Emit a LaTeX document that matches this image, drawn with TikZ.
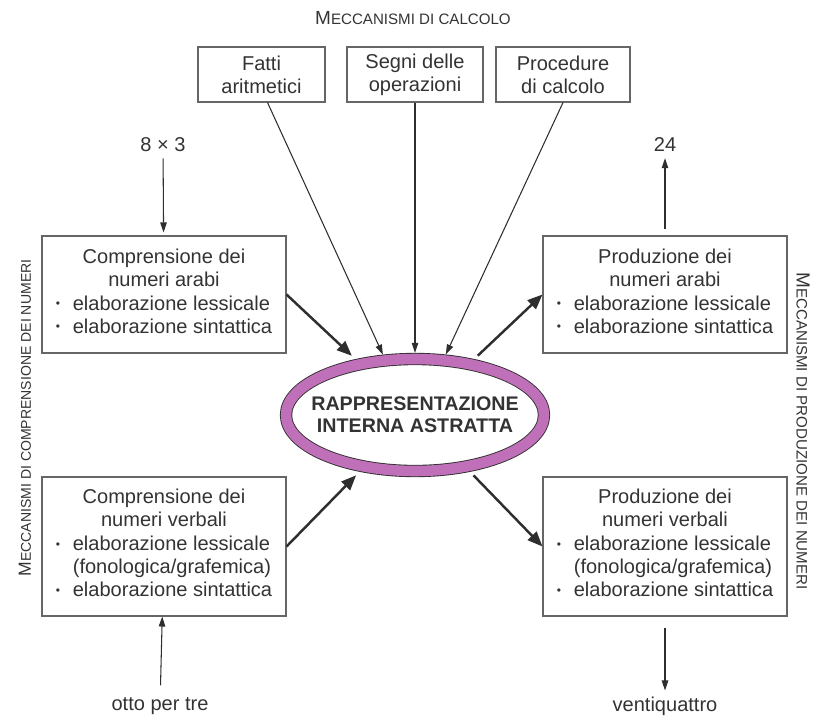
\documentclass[tikz,border=0pt]{standalone}
\usepackage{fontspec}
\setmainfont{Liberation Sans}
\usepackage{tikz}
\usetikzlibrary{arrows.meta,shapes.geometric}
\definecolor{viola}{HTML}{C070B8}
\definecolor{bordo}{HTML}{2E2E2E}
\definecolor{testo}{HTML}{333333}
\definecolor{grigio}{HTML}{666666}
\newcommand{\corpo}{\fontsize{11.4}{13.2}\selectfont}
\newcommand{\voce}{\makebox[0.85em][l]{\raisebox{0.12em}{\scalebox{0.6}{\textbullet}}}}
\newcommand{\rientro}{\hspace*{0.85em}}
\newcommand{\titoletto}[4]{{\fontsize{#3}{12}\selectfont #1}{\fontsize{#4}{10}\selectfont #2}}

\begin{document}
\begin{tikzpicture}[
    scatola/.style={draw=grigio,line width=0.6pt,text=testo,font=\corpo,align=center,inner sep=0pt,minimum width=4.88cm,minimum height=2.34cm},
    etichetta/.style={text=testo,font=\corpo},
    freccia/.style={draw=bordo,line width=0.6pt,-{Triangle[length=0.2cm,width=0.13cm]}},
    frecciagrossa/.style={draw=bordo,line width=1.4pt,-{Triangle[length=0.3cm,width=0.24cm]}}
  ]
    \useasboundingbox (0,0) rectangle (16.28,-14.34);
    % meccanismi di calcolo
    \node[text=testo] (calcolo) at (8.26,-0.36) {\titoletto{M}{ECCANISMI DI CALCOLO}{10.8}{8.6}};
    \node[scatola,minimum width=2.54cm,minimum height=1.10cm] (fatti) at (5.23,-1.49) {Fatti\\aritmetici};
    \node[scatola,minimum width=2.72cm,minimum height=1.10cm] (segni) at (8.30,-1.49) {Segni delle\\operazioni};
    \node[scatola,minimum width=2.68cm,minimum height=1.10cm] (proc) at (11.26,-1.49) {Procedure\\di calcolo};
    % rappresentazione centrale
    \node[ellipse,draw=bordo,line width=0.5pt,double=viola,double distance=6pt,minimum width=5.16cm,minimum height=2.24cm,
      inner xsep=-0.3cm,inner ysep=0pt,outer sep=3.5pt,align=center,text=testo,font=\fontsize{11.2}{12.5}\selectfont\bfseries] (rap) at (8.30,-8.30)
      {RAPPRESENTAZIONE\\INTERNA ASTRATTA};
    % comprensione
    \node[scatola] (compArabi) at (3.28,-5.89) {Comprensione dei\\numeri arabi\\[3pt]
      \begin{tabular}{@{}l@{}}\voce elaborazione lessicale\\ \voce elaborazione sintattica\end{tabular}};
    \node[scatola,minimum height=2.78cm] (compVerbali) at (3.28,-10.93) {Comprensione dei\\numeri verbali\\[3pt]
      \begin{tabular}{@{}l@{}}\voce elaborazione lessicale\\ \rientro(fonologica/grafemica)\\ \voce elaborazione sintattica\end{tabular}};
    % produzione
    \node[scatola] (prodArabi) at (13.30,-5.89) {Produzione dei\\numeri arabi\\[3pt]
      \begin{tabular}{@{}l@{}}\voce elaborazione lessicale\\ \voce elaborazione sintattica\end{tabular}};
    \node[scatola,minimum height=2.78cm] (prodVerbali) at (13.30,-10.93) {Produzione dei\\numeri verbali\\[3pt]
      \begin{tabular}{@{}l@{}}\voce elaborazione lessicale\\ \rientro(fonologica/grafemica)\\ \voce elaborazione sintattica\end{tabular}};
    % ingressi e uscite
    \node[etichetta] (in1) at (3.26,-2.90) {8 × 3};
    \node[etichetta] (out1) at (13.30,-2.90) {24};
    \node[etichetta] (in2) at (3.20,-14.12) {otto per tre};
    \node[etichetta] (out2) at (13.30,-14.12) {ventiquattro};
    \node[text=testo,rotate=90] (latoSx) at (0.50,-8.36) {\titoletto{M}{ECCANISMI DI COMPRENSIONE DEI NUMERI}{10}{8}};
    \node[text=testo,rotate=-90] (latoDx) at (16.06,-8.62) {\titoletto{M}{ECCANISMI DI PRODUZIONE DEI NUMERI}{10.8}{8.6}};
    % frecce
    \draw[freccia,shorten >=0.06cm] (in1) -- (compArabi);
    \draw[freccia,shorten <=0.12cm] (prodArabi) -- (out1);
    \draw[freccia,shorten <=0.12cm] (in2) -- (compVerbali);
    \draw[freccia,shorten <=0.22cm] (prodVerbali) -- (out2);
    \draw[freccia] ([xshift=0.12cm]fatti.south) -- (rap.118);
    \draw[freccia] (segni.south) -- (rap.north);
    \draw[freccia] (proc.south) -- (rap.63);
    \draw[frecciagrossa,shorten >=0.1cm] (compArabi.east) -- (rap);
    \draw[frecciagrossa,shorten >=0.1cm] (compVerbali.east) -- (rap);
    \draw[frecciagrossa,shorten <=0.1cm] (rap) -- (prodArabi.west);
    \draw[frecciagrossa,shorten <=0.1cm] (rap) -- (prodVerbali.west);
  \end{tikzpicture}
\end{document}
